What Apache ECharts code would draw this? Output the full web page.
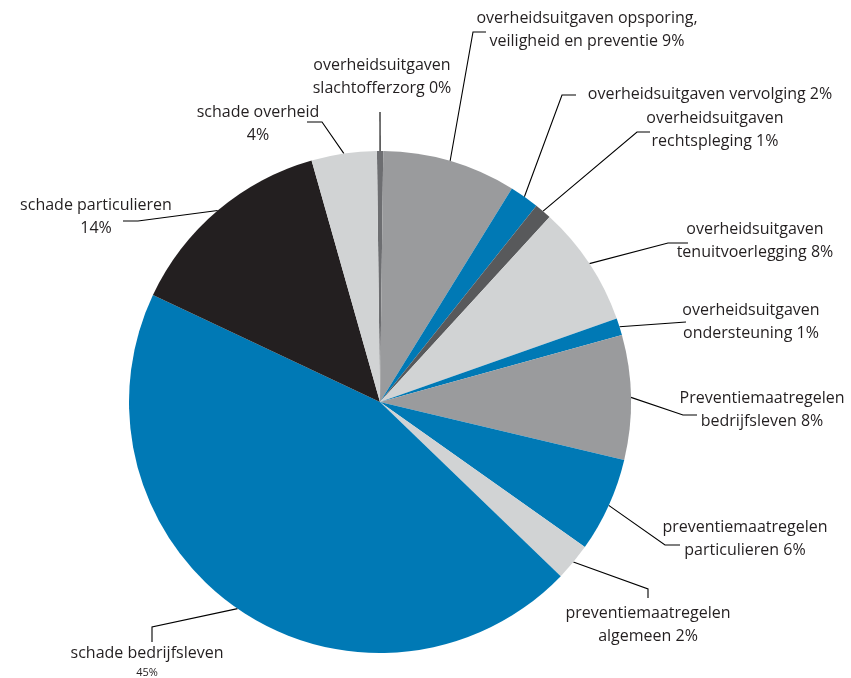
<!DOCTYPE html>
<html>
<head>
<meta charset="utf-8">
<script src="https://cdn.jsdelivr.net/npm/echarts@6/dist/echarts.min.js"></script>
<style>
html,body{margin:0;padding:0;background:#fff;}
#c{width:851px;height:678px;}
</style>
</head>
<body>
<div id="c"></div>
<script>
// ---- data ----
var categories = [
  'overheidsuitgaven\nslachtofferzorg',
  'overheidsuitgaven opsporing,\nveiligheid en preventie',
  'overheidsuitgaven vervolging',
  'overheidsuitgaven\nrechtspleging',
  'overheidsuitgaven\ntenuitvoerlegging',
  'overheidsuitgaven\nondersteuning',
  'Preventiemaatregelen\nbedrijfsleven',
  'preventiemaatregelen\nparticulieren',
  'preventiemaatregelen\nalgemeen',
  'schade bedrijfsleven',
  'schade particulieren',
  'schade overheid'
];
var values = [0.4, 8.6, 1.9, 1.1, 7.8, 1.1, 8.0, 6.1, 2.4, 44.8, 13.6, 4.2];

// ---- styling / layout ----
var BLUE = '#0079b5', MGRAY = '#9a9b9d', LGRAY = '#d1d3d4', DGRAY = '#58595b', BLACK = '#231f20';
var colors = ['#6d6e71', MGRAY, BLUE, DGRAY, LGRAY, BLUE, MGRAY, BLUE, LGRAY, BLUE, BLACK, LGRAY];
var FONT = '"Open Sans", "Liberation Sans", Arial, sans-serif';
// percentage on a new line (true) or same line (false)
var pctNewLine = [false,false,false,false,false,false,false,false,false,true,true,true];
var smallPct = [false,false,false,false,false,false,false,false,false,true,false,false];
// label block centre and label line elbow/end points
var labelPos = [
  [382, 77], [587, 30], [710, 94], [715, 130], [755, 241], [751, 322],
  [762, 410], [745, 539], [648, 625], [147, 661], [96, 217], [258, 124]
];
var linePts = [
  [[380,112],[380,112]],
  [[473,32],[486,32]],
  [[562,95],[576,95]],
  [[637,132],[650,132]],
  [[668,243],[688,243]],
  [[672,323],[686,322]],
  [[683,415],[697,415]],
  [[665,545],[680,545]],
  [[648,589],[648,598]],
  [[152,627],[152,642]],
  [[138,221],[123,221]],
  [[322,122],[307,122]]
];
var CX = 380, CY = 402, R = 251, START = 90.7;

var total = values.reduce(function(a,b){return a+b;},0);
function edgePoint(i){
  var cum = 0;
  for (var k=0;k<i;k++) cum += values[k];
  var mid = (cum + values[i]/2) / total * 360 - (START - 90);
  var a = mid * Math.PI/180;
  return [CX + R*Math.sin(a), CY - R*Math.cos(a)];
}

var data = categories.map(function(n,i){
  return {name:n, value:values[i], itemStyle:{color:colors[i]}};
});

var chart = echarts.init(document.getElementById('c'));
chart.setOption({
  animation:false,
  backgroundColor:'#ffffff',
  series:[{
    type:'pie',
    center:[CX, CY],
    radius:[0, R],
    startAngle:START,
    clockwise:true,
    avoidLabelOverlap:false,
    data:data,
    itemStyle:{borderWidth:0},
    emphasis:{disabled:true},
    label:{
      show:true,
      position:'outside',
      overflow:'none',
      color:BLACK,
      fontFamily:FONT,
      fontSize:16,
      lineHeight:23,
      align:'center',
      formatter:function(p){
        var i = p.dataIndex;
        var pct = Math.round(p.percent) + '%';
        if (smallPct[i]) return '{n|' + p.name + '}\n{s|' + pct + '}';
        return '{n|' + p.name.split('\n').join('}\n{n|') + (pctNewLine[i] ? '}\n{n|' : ' ') + pct + '}';
      },
      rich:{
        n:{fontSize:16, lineHeight:23, color:BLACK, fontFamily:FONT},
        s:{fontSize:11, lineHeight:15, color:BLACK, fontFamily:FONT}
      }
    },
    labelLine:{
      show:true,
      smooth:false,
      length:10,
      length2:10,
      lineStyle:{color:'#000000', width:1.1}
    },
    labelLayout:function(p){
      var i = p.dataIndex;
      var e = edgePoint(i);
      return {
        x: labelPos[i][0],
        y: labelPos[i][1],
        align:'center',
        verticalAlign:'middle',
        labelLinePoints:[e, linePts[i][0], linePts[i][1]]
      };
    }
  }]
});
</script>
</body>
</html>
